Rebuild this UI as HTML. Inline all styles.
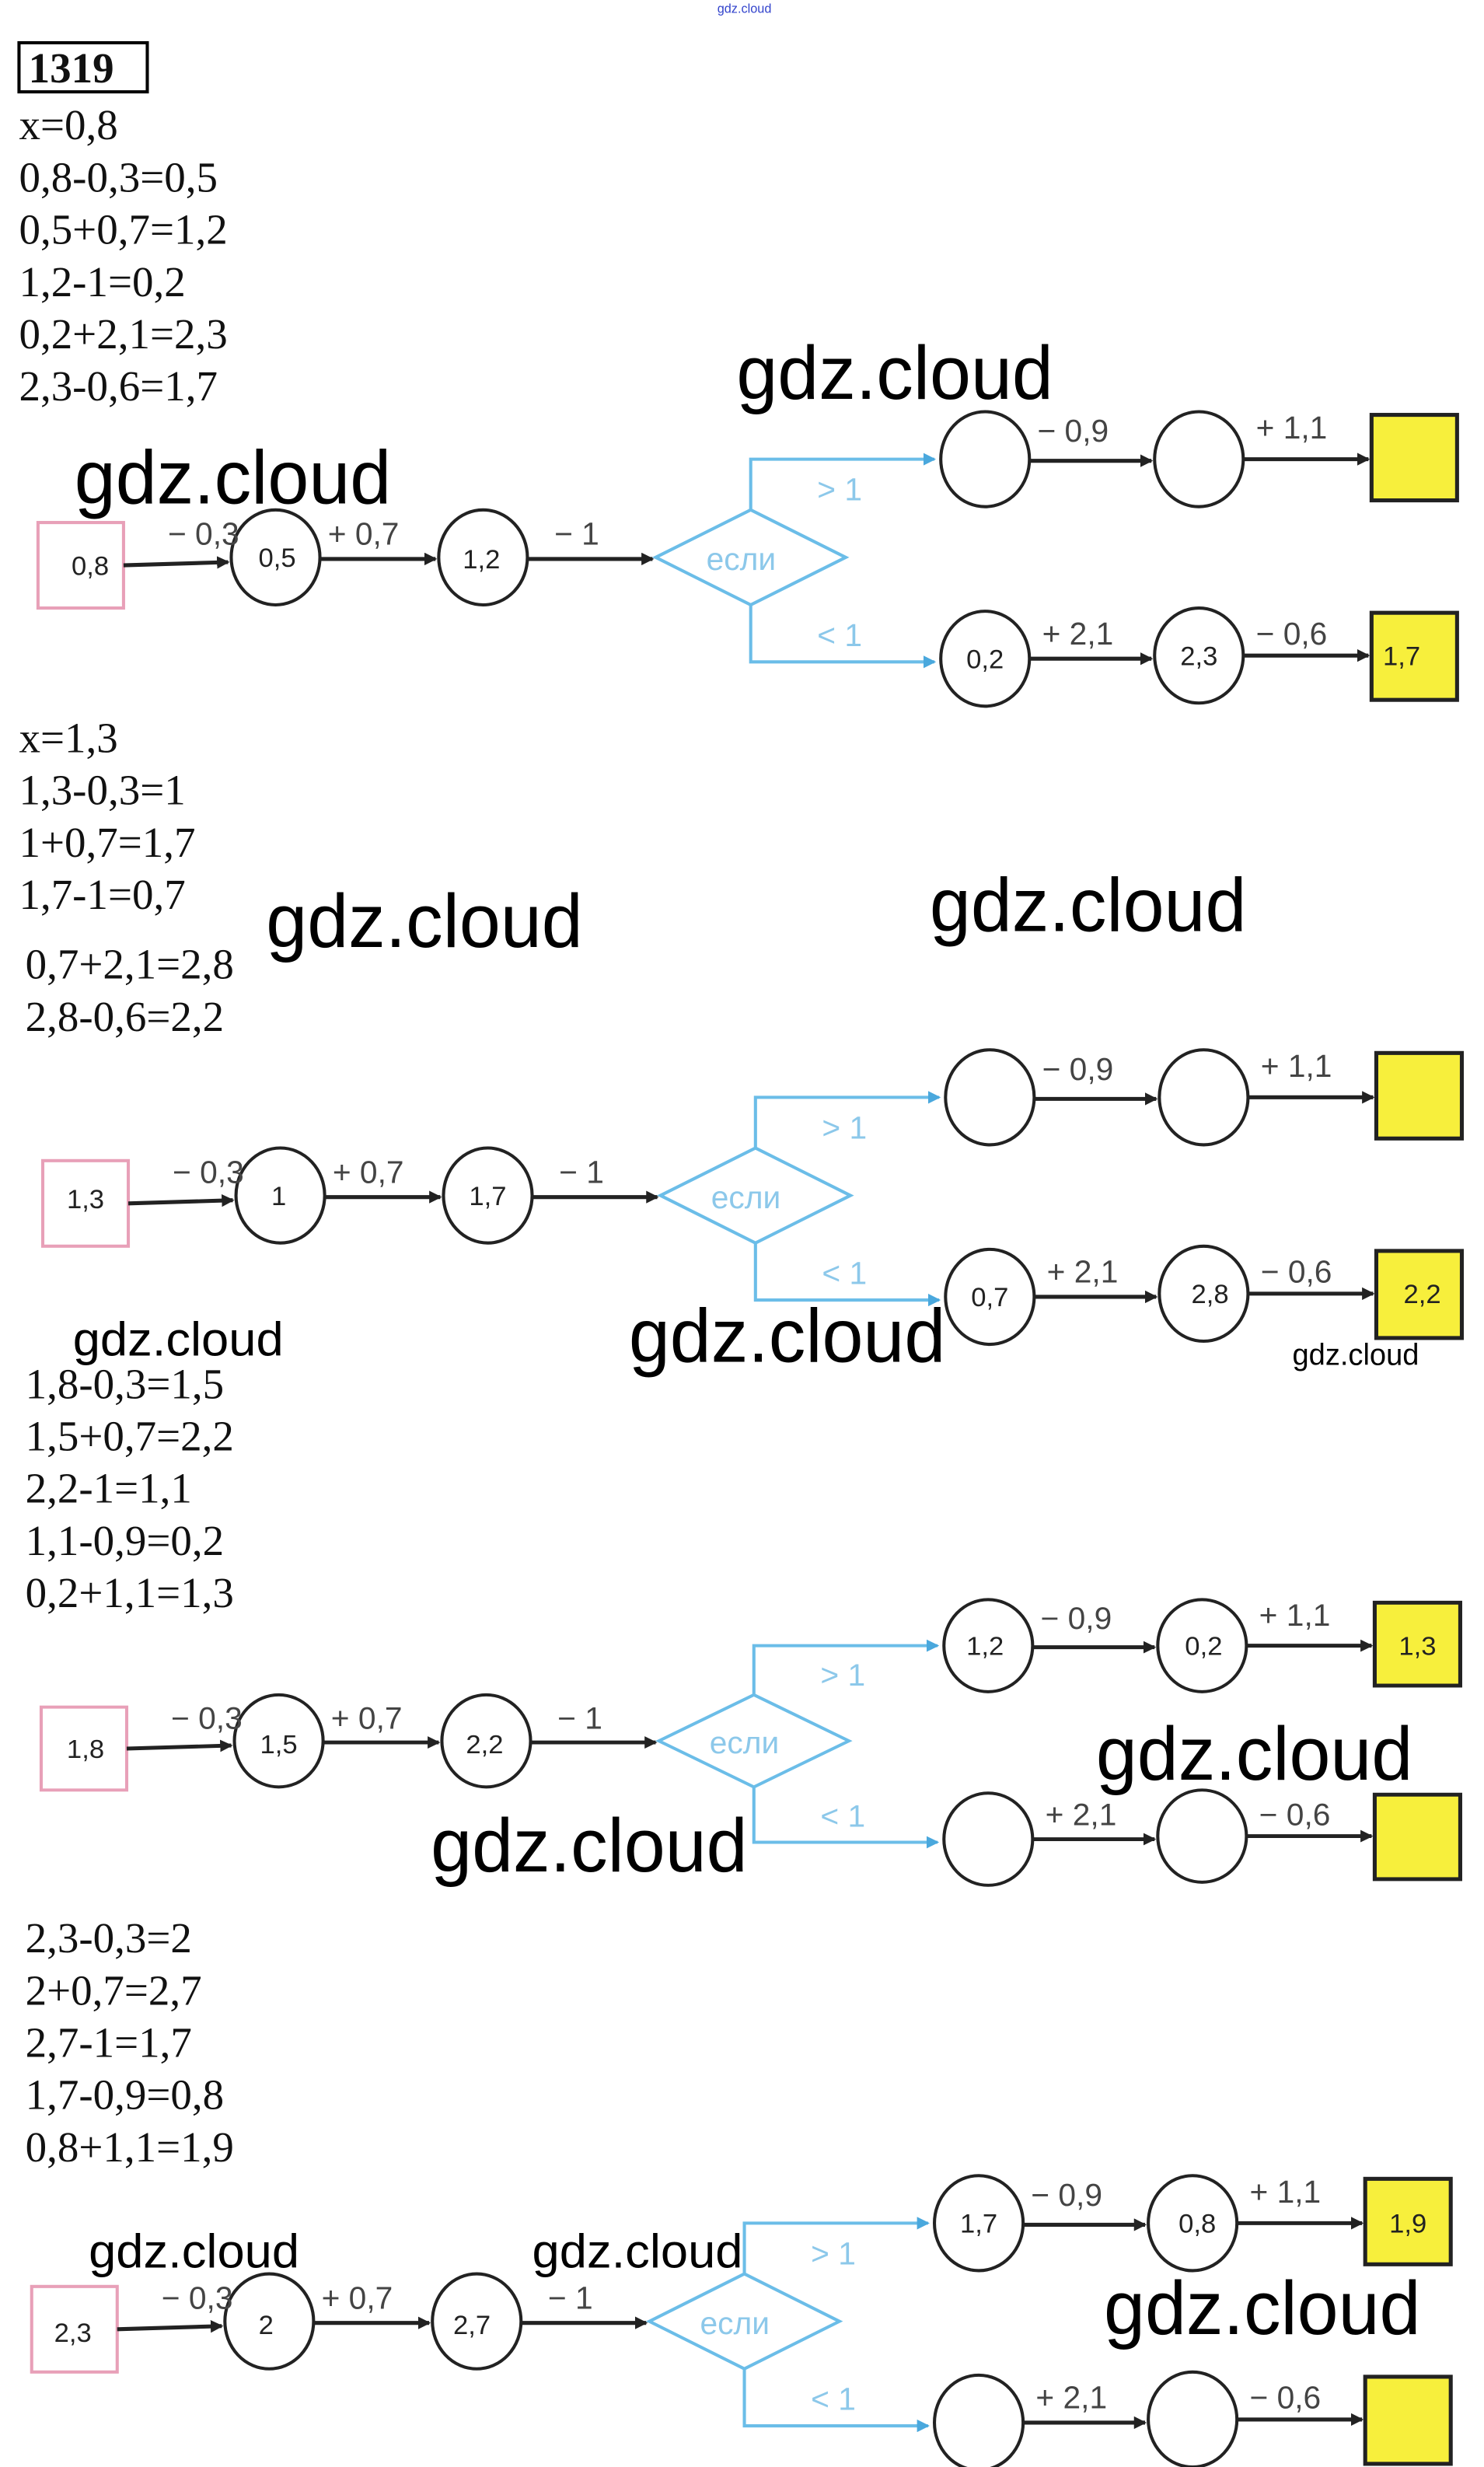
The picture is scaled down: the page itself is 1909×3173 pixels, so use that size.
<!DOCTYPE html>
<html><head><meta charset="utf-8"><style>
html,body{margin:0;padding:0;background:#fff;}
svg{display:block;}
.eq{font-family:"Liberation Serif",serif;font-size:27px;fill:#111;}
.wm{font-family:"Liberation Sans",sans-serif;fill:#000;}
.lb{font-family:"Liberation Sans",sans-serif;font-size:20px;fill:#444;}
.nv{font-family:"Liberation Sans",sans-serif;font-size:17px;fill:#222;}
.bl{font-family:"Liberation Sans",sans-serif;font-size:20px;fill:#8cc8ea;}
</style></head><body>
<svg width="1909" height="3173" viewBox="0 0 937 1558" preserveAspectRatio="none" xmlns="http://www.w3.org/2000/svg">
<defs>
<marker id="ar" markerWidth="8" markerHeight="8" refX="7" refY="4" orient="auto" markerUnits="userSpaceOnUse" viewBox="0 0 8 8"><path d="M0,0 L8,4 L0,8 z" fill="#222"/></marker>
<marker id="ab" markerWidth="8" markerHeight="8" refX="7" refY="4" orient="auto" markerUnits="userSpaceOnUse" viewBox="0 0 8 8"><path d="M0,0 L8,4 L0,8 z" fill="#4aa8dd"/></marker>
<g id="skel">
<rect x="24" y="330" width="54" height="54" fill="#fff" stroke="#e8a0b8" stroke-width="2"/>
<ellipse cx="174" cy="352" rx="28" ry="30" fill="none" stroke="#222" stroke-width="2"/>
<ellipse cx="305" cy="352" rx="28" ry="30" fill="none" stroke="#222" stroke-width="2"/>
<line x1="78" y1="357" x2="144" y2="355" stroke="#222" stroke-width="2.5" marker-end="url(#ar)"/>
<line x1="202" y1="353" x2="275" y2="353" stroke="#222" stroke-width="2.5" marker-end="url(#ar)"/>
<line x1="333" y1="353" x2="412" y2="353" stroke="#222" stroke-width="2.5" marker-end="url(#ar)"/>
<polygon points="414,352 474,322 534,352 474,382" fill="#fff" stroke="#6bbde8" stroke-width="2"/>
<polyline points="474,322 474,290 590,290" fill="none" stroke="#6bbde8" stroke-width="2" marker-end="url(#ab)"/>
<polyline points="474,382 474,418 590,418" fill="none" stroke="#6bbde8" stroke-width="2" marker-end="url(#ab)"/>
<ellipse cx="622" cy="290" rx="28" ry="30" fill="#fff" stroke="#222" stroke-width="2"/>
<ellipse cx="757" cy="290" rx="28" ry="30" fill="#fff" stroke="#222" stroke-width="2"/>
<ellipse cx="622" cy="416" rx="28" ry="30" fill="#fff" stroke="#222" stroke-width="2"/>
<ellipse cx="757" cy="414" rx="28" ry="30" fill="#fff" stroke="#222" stroke-width="2"/>
<line x1="650" y1="291" x2="727" y2="291" stroke="#222" stroke-width="2.5" marker-end="url(#ar)"/>
<line x1="785" y1="290" x2="864" y2="290" stroke="#222" stroke-width="2.5" marker-end="url(#ar)"/>
<line x1="650" y1="416" x2="727" y2="416" stroke="#222" stroke-width="2.5" marker-end="url(#ar)"/>
<line x1="785" y1="414" x2="864" y2="414" stroke="#222" stroke-width="2.5" marker-end="url(#ar)"/>
<rect x="866" y="262" width="54" height="54" fill="#f7ef3c" stroke="#222" stroke-width="2.5"/>
<rect x="866" y="387" width="54" height="55" fill="#f7ef3c" stroke="#222" stroke-width="2.5"/>
<text class="lb" x="106" y="344">− 0,3</text>
<text class="lb" x="207" y="344">+ 0,7</text>
<text class="lb" x="350" y="344">− 1</text>
<text class="lb" x="655" y="279">− 0,9</text>
<text class="lb" x="793" y="277">+ 1,1</text>
<text class="lb" x="658" y="407">+ 2,1</text>
<text class="lb" x="793" y="407">− 0,6</text>
<text class="bl" x="446" y="360">если</text>
<text class="bl" x="516" y="316">&gt; 1</text>
<text class="bl" x="516" y="408">&lt; 1</text>
</g>
</defs>
<text x="470" y="8" font-family="Liberation Sans,sans-serif" font-size="8" fill="#3344cc" text-anchor="middle">gdz.cloud</text>
<rect x="12" y="27" width="81" height="31" fill="none" stroke="#000" stroke-width="2"/>
<text class="eq" x="18" y="52" font-weight="bold" font-size="26">1319</text>
<text class="eq" x="12" y="88">x=0,8</text>
<text class="eq" x="12" y="121">0,8-0,3=0,5</text>
<text class="eq" x="12" y="154">0,5+0,7=1,2</text>
<text class="eq" x="12" y="187">1,2-1=0,2</text>
<text class="eq" x="12" y="220">0,2+2,1=2,3</text>
<text class="eq" x="12" y="253">2,3-0,6=1,7</text>

<use href="#skel"/>
<text class="nv" x="57" y="363" text-anchor="middle">0,8</text>
<text class="nv" x="175" y="358" text-anchor="middle">0,5</text>
<text class="nv" x="304" y="359" text-anchor="middle">1,2</text>
<text class="nv" x="622" y="422" text-anchor="middle">0,2</text>
<text class="nv" x="757" y="420" text-anchor="middle">2,3</text>
<text class="nv" x="885" y="420" text-anchor="middle">1,7</text>

<text class="eq" x="12" y="475">x=1,3</text>
<text class="eq" x="12" y="508">1,3-0,3=1</text>
<text class="eq" x="12" y="541">1+0,7=1,7</text>
<text class="eq" x="12" y="574">1,7-1=0,7</text>
<text class="eq" x="16" y="618">0,7+2,1=2,8</text>
<text class="eq" x="16" y="651">2,8-0,6=2,2</text>

<g transform="translate(3,403)"><use href="#skel"/>
<text class="nv" x="51" y="360" text-anchor="middle">1,3</text>
<text class="nv" x="173" y="358" text-anchor="middle">1</text>
<text class="nv" x="305" y="358" text-anchor="middle">1,7</text>
<text class="nv" x="622" y="422" text-anchor="middle">0,7</text>
<text class="nv" x="761" y="420" text-anchor="middle">2,8</text>
<text class="nv" x="895" y="420" text-anchor="middle">2,2</text>
</g>

<text class="eq" x="16" y="883">1,8-0,3=1,5</text>
<text class="eq" x="16" y="916">1,5+0,7=2,2</text>
<text class="eq" x="16" y="949">2,2-1=1,1</text>
<text class="eq" x="16" y="982">1,1-0,9=0,2</text>
<text class="eq" x="16" y="1015">0,2+1,1=1,3</text>

<g transform="translate(2,758) scale(1,0.97)"><use href="#skel"/>
<text class="nv" x="52" y="363" text-anchor="middle">1,8</text>
<text class="nv" x="174" y="360" text-anchor="middle">1,5</text>
<text class="nv" x="304" y="360" text-anchor="middle">2,2</text>
<text class="nv" x="620" y="296" text-anchor="middle">1,2</text>
<text class="nv" x="758" y="296" text-anchor="middle">0,2</text>
<text class="nv" x="893" y="296" text-anchor="middle">1,3</text>
</g>

<text class="eq" x="16" y="1233">2,3-0,3=2</text>
<text class="eq" x="16" y="1266">2+0,7=2,7</text>
<text class="eq" x="16" y="1299">2,7-1=1,7</text>
<text class="eq" x="16" y="1332">1,7-0,9=0,8</text>
<text class="eq" x="16" y="1365">0,8+1,1=1,9</text>

<g transform="translate(-4,1114)"><use href="#skel"/>
<text class="nv" x="50" y="365" text-anchor="middle">2,3</text>
<text class="nv" x="172" y="360" text-anchor="middle">2</text>
<text class="nv" x="302" y="360" text-anchor="middle">2,7</text>
<text class="nv" x="622" y="296" text-anchor="middle">1,7</text>
<text class="nv" x="760" y="296" text-anchor="middle">0,8</text>
<text class="nv" x="893" y="296" text-anchor="middle">1,9</text>
</g>

<text class="wm" x="465" y="252" font-size="48" textLength="200" lengthAdjust="spacingAndGlyphs">gdz.cloud</text>
<text class="wm" x="47" y="318" font-size="48" textLength="200" lengthAdjust="spacingAndGlyphs">gdz.cloud</text>
<text class="wm" x="168" y="598" font-size="48" textLength="200" lengthAdjust="spacingAndGlyphs">gdz.cloud</text>
<text class="wm" x="587" y="588" font-size="48" textLength="200" lengthAdjust="spacingAndGlyphs">gdz.cloud</text>
<text class="wm" x="46" y="856" font-size="30" textLength="133" lengthAdjust="spacingAndGlyphs">gdz.cloud</text>
<text class="wm" x="397" y="860" font-size="48" textLength="200" lengthAdjust="spacingAndGlyphs">gdz.cloud</text>
<text class="wm" x="816" y="862" font-size="19" textLength="80" lengthAdjust="spacingAndGlyphs">gdz.cloud</text>
<text class="wm" x="692" y="1124" font-size="48" textLength="200" lengthAdjust="spacingAndGlyphs">gdz.cloud</text>
<text class="wm" x="272" y="1182" font-size="48" textLength="200" lengthAdjust="spacingAndGlyphs">gdz.cloud</text>
<text class="wm" x="56" y="1432" font-size="30" textLength="133" lengthAdjust="spacingAndGlyphs">gdz.cloud</text>
<text class="wm" x="336" y="1432" font-size="30" textLength="133" lengthAdjust="spacingAndGlyphs">gdz.cloud</text>
<text class="wm" x="697" y="1474" font-size="48" textLength="200" lengthAdjust="spacingAndGlyphs">gdz.cloud</text>
</svg>
</body></html>
